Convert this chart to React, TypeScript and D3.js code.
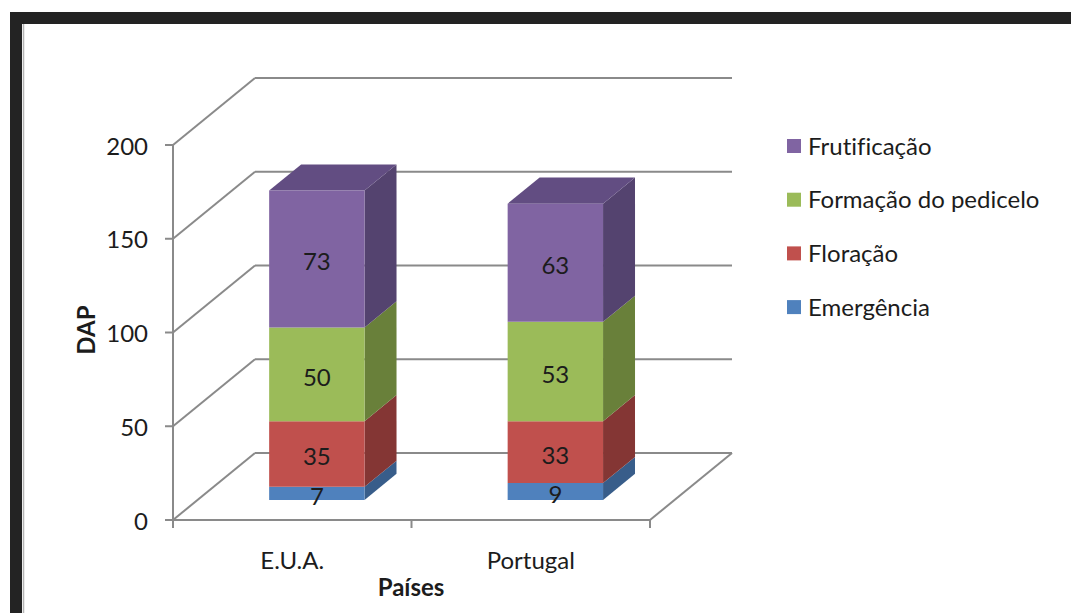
import React from "react";
import * as d3 from "d3";

// Days after planting (DAP) per phenological stage, stacked per country
const countries = ["E.U.A.", "Portugal"];
const stages = ["Emergência", "Floração", "Formação do pedicelo", "Frutificação"];
const emergencia = [7, 9];
const floracao = [35, 33];
const formacao = [50, 53];
const frutificacao = [73, 63];
const yTicks = [0, 50, 100, 150, 200];

const seriesValues = [emergencia, floracao, formacao, frutificacao];
const frontColors = ["#4F81BD", "#C0504D", "#9BBB59", "#8064A2"];
const sideColors = ["#385D8A", "#843634", "#69803A", "#54436F"];
const topColors = ["#4A77AD", "#A84744", "#87A34D", "#624D82"];

const W = 1071;
const H = 613;
// oblique projection of the depth axis
const DX = 82;
const DY = -67;
const BAR_D0 = 0.3;
const BAR_D1 = 0.69;
const FONT = "Lato, 'Open Sans', sans-serif";
const INK = "#1c1c1c";

export default function App() {
  const x = d3
    .scaleBand<string>()
    .domain(countries)
    .range([173, 650])
    .paddingInner(0.6)
    .paddingOuter(0.3);
  const y = d3.scaleLinear().domain([0, 200]).range([520, 145]);
  const x0 = 173;
  const x1 = 650;

  const P = (px: number, py: number, d: number) => [px + d * DX, py + d * DY];
  const poly = (pts: number[][]) => pts.map((p) => p.join(",")).join(" ");

  const stacked = d3
    .stack<number>()
    .keys(stages.map((_, i) => String(i)))
    .value((ci, k) => seriesValues[+k][ci])(countries.map((_, i) => i));

  const grid = "#8A8A8A";

  return (
    <svg
      width={W}
      height={H}
      style={{
        position: "absolute",
        left: 0,
        top: 0,
        background: "#fff",
        fontVariantLigatures: "none",
      }}
      fontFamily={FONT}
    >
      <rect x={0} y={0} width={W} height={H} fill="#fff" />
      {/* window frame */}
      <rect x={10} y={12} width={W - 10} height={12} fill="#232323" />
      <rect x={10} y={12} width={12} height={H - 12} fill="#232323" />
      <line x1={23.5} y1={24} x2={23.5} y2={H} stroke="#b5b5b5" strokeWidth={1.5} />

      {/* walls: back gridlines and left-wall diagonals */}
      {yTicks.map((t) => {
        const [bx, by] = P(x0, y(t), 1);
        return (
          <g key={t} stroke={grid} strokeWidth={2} fill="none">
            <line x1={x0} y1={y(t)} x2={bx} y2={by} />
            <line x1={bx} y1={by} x2={x1 + DX} y2={by} />
          </g>
        );
      })}
      {/* floor */}
      <g stroke={grid} strokeWidth={2} fill="none">
        <line x1={x0} y1={y(0)} x2={x1} y2={y(0)} />
        <line x1={x1} y1={y(0)} x2={x1 + DX} y2={y(0) + DY} />
        <line x1={x0} y1={y(0)} x2={x0} y2={y(200)} />
      </g>
      {/* axis ticks */}
      <g stroke={grid} strokeWidth={2}>
        {yTicks.map((t) => (
          <line key={t} x1={x0 - 8} y1={y(t)} x2={x0} y2={y(t)} />
        ))}
        {[x0, (x0 + x1) / 2, x1].map((v) => (
          <line key={v} x1={v} y1={y(0)} x2={v} y2={y(0) + 8} />
        ))}
      </g>
      {yTicks.map((t) => (
        <text
          key={t}
          x={x0 - 25}
          y={y(t)}
          textAnchor="end"
          dominantBaseline="central"
          fontSize={24}
          fill={INK}
        >
          {t}
        </text>
      ))}

      {/* stacked 3D bars */}
      {countries.map((c, ci) => {
        const bx = x(c)!;
        const bw = x.bandwidth();
        return (
          <g key={c}>
            {stacked.map((layer, si) => {
              const [v0, v1] = layer[ci];
              const yb = y(v0);
              const yt = y(v1);
              const fl = P(bx, yb, BAR_D0);
              const fr = P(bx + bw, yb, BAR_D0);
              const tr = P(bx + bw, yt, BAR_D0);
              const tl = P(bx, yt, BAR_D0);
              const brb = P(bx + bw, yb, BAR_D1);
              const brt = P(bx + bw, yt, BAR_D1);
              const blt = P(bx, yt, BAR_D1);
              const isTop = si === stacked.length - 1;
              return (
                <g key={si}>
                  <polygon points={poly([fr, brb, brt, tr])} fill={sideColors[si]} />
                  {isTop && <polygon points={poly([tl, tr, brt, blt])} fill={topColors[si]} />}
                  <polygon points={poly([fl, fr, tr, tl])} fill={frontColors[si]} />
                </g>
              );
            })}
            {stacked.map((layer, si) => {
              const [v0, v1] = layer[ci];
              const [cx, cy] = P(bx + bw / 2, (y(v0) + y(v1)) / 2, BAR_D0);
              return (
                <text
                  key={"l" + si}
                  x={cx}
                  y={cy + 2}
                  textAnchor="middle"
                  dominantBaseline="central"
                  fontSize={24}
                  fill={INK}
                >
                  {seriesValues[si][ci]}
                </text>
              );
            })}
          </g>
        );
      })}

      {/* category labels and axis titles */}
      {countries.map((c) => (
        <text
          key={c}
          x={x(c)! + x.bandwidth() / 2}
          y={559}
          textAnchor="middle"
          dominantBaseline="central"
          fontSize={24}
          fill={INK}
        >
          {c}
        </text>
      ))}
      <text
        x={411}
        y={586}
        textAnchor="middle"
        dominantBaseline="central"
        fontSize={24}
        fontWeight="bold"
        fill={INK}
      >
        Países
      </text>
      <text
        transform="translate(85,330) rotate(-90)"
        textAnchor="middle"
        dominantBaseline="central"
        fontSize={24}
        fontWeight="bold"
        fill={INK}
      >
        DAP
      </text>

      {/* legend */}
      {stages
        .map((s, i) => ({ s, i }))
        .reverse()
        .map(({ s, i }, r) => {
          const cy = 146 + r * 53.7;
          return (
            <g key={s}>
              <rect x={787} y={cy - 7} width={14} height={14} fill={frontColors[i]} />
              <text x={808} y={cy - 1} dominantBaseline="central" fontSize={24} fill={INK}>
                {s}
              </text>
            </g>
          );
        })}
    </svg>
  );
}
